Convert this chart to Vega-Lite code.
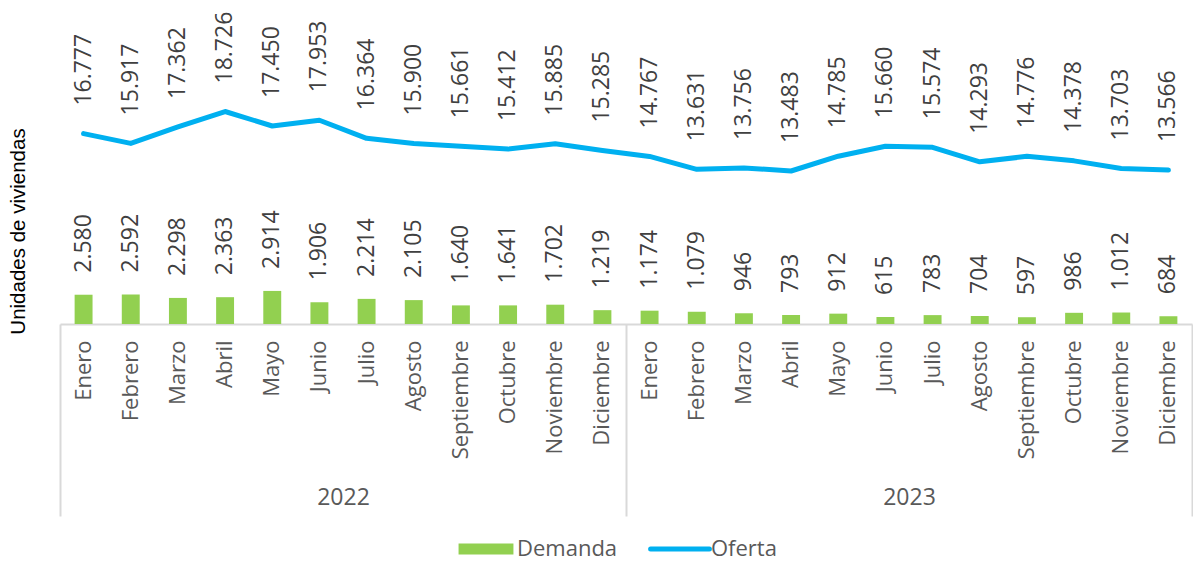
{
  "$schema": "https://vega.github.io/schema/vega-lite/v6.json",
  "width": 1132,
  "height": 320,
  "autosize": {"type": "none"},
  "padding": {"left": 60, "top": 4, "right": 1, "bottom": 238},
  "background": "white",
  "config": {
    "view": {"stroke": null},
    "font": "Open Sans",
    "locale": {"number": {"decimal": ",", "thousands": ".", "grouping": [3], "currency": ["$", ""]}},
    "legend": {"layout": {"bottom": {"anchor": "middle", "direction": "horizontal"}}}
  },
  "data": {"values": [
    {"anio": "2022", "key": "2022-Enero", "Demanda": 2580, "Oferta": 16777},
    {"anio": "2022", "key": "2022-Febrero", "Demanda": 2592, "Oferta": 15917},
    {"anio": "2022", "key": "2022-Marzo", "Demanda": 2298, "Oferta": 17362},
    {"anio": "2022", "key": "2022-Abril", "Demanda": 2363, "Oferta": 18726},
    {"anio": "2022", "key": "2022-Mayo", "Demanda": 2914, "Oferta": 17450},
    {"anio": "2022", "key": "2022-Junio", "Demanda": 1906, "Oferta": 17953},
    {"anio": "2022", "key": "2022-Julio", "Demanda": 2214, "Oferta": 16364},
    {"anio": "2022", "key": "2022-Agosto", "Demanda": 2105, "Oferta": 15900},
    {"anio": "2022", "key": "2022-Septiembre", "Demanda": 1640, "Oferta": 15661},
    {"anio": "2022", "key": "2022-Octubre", "Demanda": 1641, "Oferta": 15412},
    {"anio": "2022", "key": "2022-Noviembre", "Demanda": 1702, "Oferta": 15885},
    {"anio": "2022", "key": "2022-Diciembre", "Demanda": 1219, "Oferta": 15285},
    {"anio": "2023", "key": "2023-Enero", "Demanda": 1174, "Oferta": 14767},
    {"anio": "2023", "key": "2023-Febrero", "Demanda": 1079, "Oferta": 13631},
    {"anio": "2023", "key": "2023-Marzo", "Demanda": 946, "Oferta": 13756},
    {"anio": "2023", "key": "2023-Abril", "Demanda": 793, "Oferta": 13483},
    {"anio": "2023", "key": "2023-Mayo", "Demanda": 912, "Oferta": 14785},
    {"anio": "2023", "key": "2023-Junio", "Demanda": 615, "Oferta": 15660},
    {"anio": "2023", "key": "2023-Julio", "Demanda": 783, "Oferta": 15574},
    {"anio": "2023", "key": "2023-Agosto", "Demanda": 704, "Oferta": 14293},
    {"anio": "2023", "key": "2023-Septiembre", "Demanda": 597, "Oferta": 14776},
    {"anio": "2023", "key": "2023-Octubre", "Demanda": 986, "Oferta": 14378},
    {"anio": "2023", "key": "2023-Noviembre", "Demanda": 1012, "Oferta": 13703},
    {"anio": "2023", "key": "2023-Diciembre", "Demanda": 684, "Oferta": 13566}
  ]},
  "layer": [
    {
      "encoding": {
        "x": {
          "field": "key", "type": "ordinal", "sort": null,
          "scale": {"type": "band", "paddingInner": 0, "paddingOuter": 0},
          "axis": {
            "orient": "bottom",
            "title": null, "ticks": false, "grid": false,
            "domain": true, "domainColor": "#d9d9d9", "domainWidth": 2,
            "labelAngle": 270, "labelAlign": "right", "labelBaseline": "middle",
            "labelPadding": 16, "labelFont": "Open Sans", "labelFontSize": 22,
            "labelColor": "#595959", "labelOverlap": false,
            "labelExpr": "split(datum.label, '-')[1]"
          }
        }
      },
      "layer": [
        {
          "mark": {"type": "bar", "width": {"band": 0.38}},
          "encoding": {
            "y": {
              "field": "Demanda", "type": "quantitative",
              "scale": {"domain": [0, 28200]},
              "axis": {"title": "Unidades de viviendas", "domain": false, "ticks": false, "labels": false, "grid": false,
                "titleFont": "Liberation Sans", "titleFontSize": 20.5, "titleFontWeight": "normal", "titleColor": "#000000",
                "titleAngle": 270, "titleX": -42, "titleY": 227, "titleAlign": "center", "titleBaseline": "middle"}
            },
            "color": {
              "datum": "Demanda", "type": "nominal",
              "scale": {"domain": ["Demanda", "Oferta"], "range": ["#92d050", "#00b0f0"]},
              "legend": {
                "orient": "bottom", "direction": "horizontal", "title": null, "offset": 21,
                "symbolSize": 3136, "labelFont": "Open Sans", "labelFontSize": 22, "labelColor": "#595959",
                "labelOffset": 20, "columnPadding": 22,
                "encode": {"symbols": {"update": {
                  "shape": {"signal": "datum.value === 'Oferta' ? 'M-1.05,0H1.05' : 'M-0.98,-0.2H0.98V0.2H-0.98Z'"},
                  "fill": {"signal": "datum.value === 'Oferta' ? 'transparent' : '#92d050'"},
                  "stroke": {"signal": "datum.value === 'Oferta' ? '#00b0f0' : 'transparent'"},
                  "strokeWidth": {"signal": "datum.value === 'Oferta' ? 5 : 0"},
                  "strokeCap": {"value": "round"},
                  "opacity": {"value": 1}
                }}}
              }
            }
          }
        },
        {
          "mark": {"type": "text", "angle": 270, "align": "left", "baseline": "middle", "dx": 22, "fontSize": 23, "font": "Open Sans", "color": "#404040"},
          "encoding": {
            "y": {"field": "Demanda", "type": "quantitative", "scale": {"domain": [0, 28200]}, "axis": {"title": "Unidades de viviendas"}},
            "text": {"field": "Demanda", "type": "quantitative", "format": ",d"}
          }
        },
        {
          "mark": {"type": "line", "strokeWidth": 5, "strokeCap": "round", "strokeJoin": "round"},
          "encoding": {
            "y": {"field": "Oferta", "type": "quantitative", "scale": {"domain": [0, 28200]}, "axis": {"title": "Unidades de viviendas"}},
            "color": {"datum": "Oferta", "type": "nominal"}
          }
        },
        {
          "mark": {"type": "text", "angle": 270, "align": "left", "baseline": "middle", "dx": 28, "fontSize": 23, "font": "Open Sans", "color": "#404040"},
          "encoding": {
            "y": {"field": "Oferta", "type": "quantitative", "scale": {"domain": [0, 28200]}, "axis": {"title": "Unidades de viviendas"}},
            "text": {"field": "Oferta", "type": "quantitative", "format": ",d"}
          }
        }
      ]
    },
    {
      "mark": {"type": "rule", "opacity": 0},
      "encoding": {
        "x": {
          "field": "anio", "type": "ordinal",
          "scale": {"type": "band", "paddingInner": 0, "paddingOuter": 0},
          "axis": {
            "orient": "bottom",
            "title": null, "domain": false, "grid": false, "ticks": true,
            "tickBand": "extent", "tickSize": 192, "tickColor": "#d9d9d9", "tickWidth": 2,
            "labelAngle": 0, "labelPadding": -30, "labelFont": "Open Sans", "labelFontSize": 23,
            "labelColor": "#595959", "labelBaseline": "top", "labelAlign": "center"
          }
        }
      }
    }
  ],
  "resolve": {"scale": {"x": "independent"}, "axis": {"x": "independent"}}
}
